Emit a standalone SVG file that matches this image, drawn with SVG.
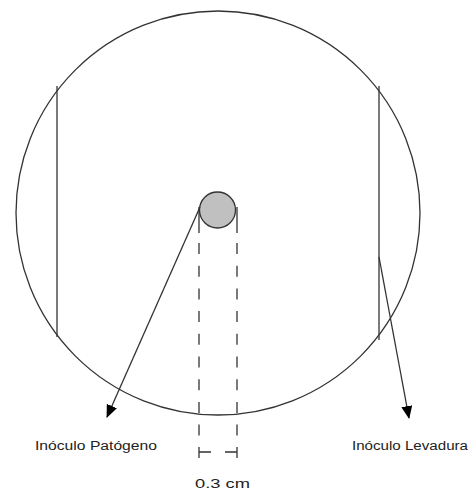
<svg xmlns="http://www.w3.org/2000/svg" width="474" height="497" viewBox="0 0 474 497">
<style>
.ln{stroke:#333;stroke-width:1.3;fill:none}
.ds{stroke:#333;stroke-width:1.3;fill:none;stroke-dasharray:11 11.7}
.lbl{font-family:"Liberation Sans",Arial,sans-serif;font-size:12px;fill:#222}
</style>
<defs>
<marker id="ah" markerWidth="13" markerHeight="12" refX="12" refY="5.5" orient="auto" markerUnits="userSpaceOnUse">
<path d="M0,0 L13,5.5 L0,11 Z" fill="#000"/>
</marker>
</defs>
<rect width="474" height="497" fill="#fff"/>
<g id="plate">
<circle cx="218" cy="213" r="202" class="ln" stroke="#444"/>
<line x1="57" y1="86" x2="57" y2="337" class="ln"/>
<line x1="379" y1="86" x2="379" y2="340" class="ln"/>
</g>
<g id="measure">
<path d="M199,207 V233 M237,207 V233" class="ln"/>
<line x1="199" y1="243" x2="199" y2="446" class="ds"/>
<line x1="237" y1="243" x2="237" y2="446" class="ds"/>
<path d="M199,447 V458 M199,452 H211 M225,452 H237 M237,447 V458" class="ln"/>
<text x="195" y="488" class="lbl" textLength="55" lengthAdjust="spacingAndGlyphs">0.3 cm</text>
</g>
<g id="pathogen">
<circle cx="217.5" cy="210" r="18" fill="#c0c0c0" stroke="#333" stroke-width="1.3"/>
<text x="35" y="450" class="lbl" textLength="122" lengthAdjust="spacingAndGlyphs">Inóculo Patógeno</text>
</g>
<g id="yeast">
<text x="352" y="450" class="lbl" textLength="116" lengthAdjust="spacingAndGlyphs">Inóculo Levadura</text>
</g>
<g id="connectors">
<line x1="200" y1="207" x2="107" y2="417" class="ln" marker-end="url(#ah)"/>
<line x1="379" y1="257" x2="409" y2="418" class="ln" marker-end="url(#ah)"/>
</g>
</svg>
